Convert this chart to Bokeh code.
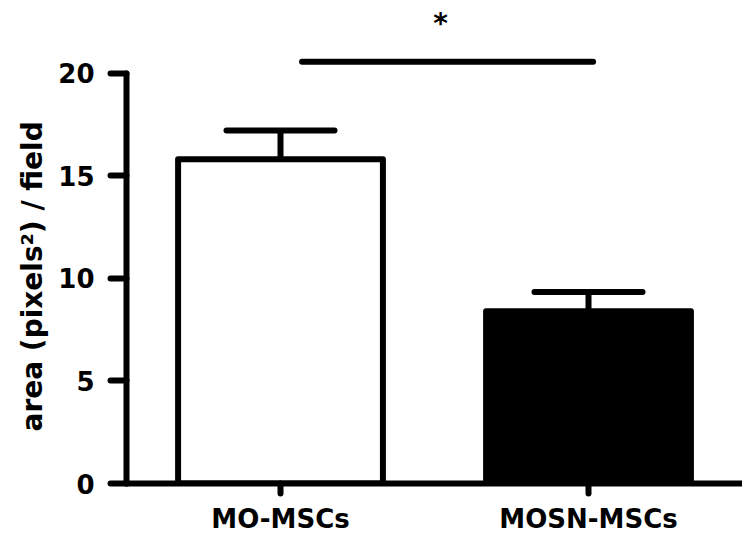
from bokeh.plotting import figure
from bokeh.models import (FactorRange, Range1d, Whisker, TeeHead, ColumnDataSource,
                          FixedTicker, Title)
from bokeh.transform import dodge
from bokeh.embed import file_html
from bokeh.resources import INLINE
from bokeh.core.properties import value

# ---- data ----
categories = ["MO-MSCs", "MOSN-MSCs"]
means = [15.8, 8.4]
errors = [1.4, 0.93]
fills = ["white", "black"]
y_ticks = [0, 5, 10, 15, 20]
y_label = "area (pixels²) / field"
sig_pair = ["MO-MSCs", "MOSN-MSCs"]
sig_height = [20.55]
sig_mark = ["*"]

FONT = "DejaVu Sans"

src = ColumnDataSource(dict(
    cat=categories,
    mean=means,
    upper=[m + e for m, e in zip(means, errors)],
    fill=fills,
))

p = figure(
    x_range=FactorRange(*categories, range_padding=0),
    y_range=Range1d(0, 23.54),
    width=742, height=536,
    output_backend="svg", toolbar_location=None,
    min_border_left=126, min_border_right=0, min_border_top=0, min_border_bottom=51,
)
p.background_fill_color = "white"
p.border_fill_color = "white"
p.outline_line_color = None
p.xgrid.grid_line_color = None
p.ygrid.grid_line_color = None

# bars
p.vbar(x="cat", top="mean", bottom=0, width=0.665, source=src,
       fill_color="fill", line_color="black", line_width=6, line_join="round")

# error bars (upper only)
w = Whisker(source=src, base="cat", lower="mean", upper="upper", dimension="height",
            line_width=6, line_color="black",
            upper_head=TeeHead(size=108, line_width=6, line_color="black", line_cap="round"),
            lower_head=None)
p.add_layout(w)

# significance bracket
sig_src = ColumnDataSource(dict(a=[sig_pair[0]], b=[sig_pair[1]], h=sig_height, t=sig_mark))
p.segment(x0=dodge("a", 0.07, range=p.x_range), x1=dodge("b", 0.015, range=p.x_range),
          y0="h", y1="h", source=sig_src, line_width=6, line_color="black", line_cap="round")
p.text(x=dodge("a", 0.52, range=p.x_range), y=22.4, text="t", source=sig_src,
       text_font=value(FONT), text_font_style="bold", text_font_size="28px",
       text_align="center", text_baseline="alphabetic", text_color="black")

# y axis
yax = p.yaxis[0]
yax.ticker = FixedTicker(ticks=y_ticks)
yax.bounds = (0, 20)
yax.axis_line_width = 6
yax.axis_line_color = "black"
yax.axis_line_cap = "round"
yax.major_tick_line_width = 6
yax.major_tick_line_cap = "round"
yax.major_tick_out = 16
yax.major_tick_in = 0
yax.minor_tick_line_color = None
yax.major_label_standoff = 16
yax.major_label_text_font = FONT
yax.major_label_text_font_style = "bold"
yax.major_label_text_font_size = "26px"
yax.major_label_text_color = "black"

# x axis
xax = p.xaxis[0]
xax.axis_line_width = 6
xax.axis_line_color = "black"
xax.axis_line_cap = "round"
xax.major_tick_line_width = 6
xax.major_tick_line_cap = "round"
xax.major_tick_out = 10
xax.major_tick_in = 0
xax.minor_tick_line_color = None
xax.major_label_standoff = 10
xax.major_label_text_font = FONT
xax.major_label_text_font_style = "bold"
xax.major_label_text_font_size = "26px"
xax.major_label_text_color = "black"

# y axis title, starting near the bottom of the 0-20 axis
p.add_layout(Title(text=y_label, align="left", offset=52, standoff=14,
                   text_font=FONT, text_font_style="bold", text_font_size="28px",
                   text_color="black"), "left")

open("out.html", "w").write(file_html(p, INLINE))
